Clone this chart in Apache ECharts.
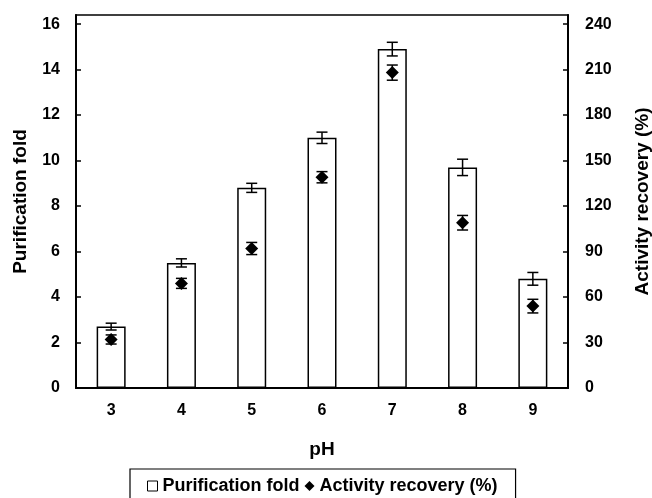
<!DOCTYPE html>
<html>
<head>
<meta charset="utf-8">
<script src="https://cdn.jsdelivr.net/npm/echarts@6/dist/echarts.min.js"></script>
<style>
  html, body { margin: 0; padding: 0; background: #fff; }
  #chart { width: 652px; height: 498px; }
</style>
</head>
<body>
<div id="chart"></div>
<script>
// pH values on the x axis
const phLabels = ['3', '4', '5', '6', '7', '8', '9'];
// purification fold (left axis) with error
const purificationFold = [2.7, 5.5, 8.8, 11.0, 14.9, 9.7, 4.8];
const purificationErr = [0.15, 0.18, 0.2, 0.25, 0.3, 0.36, 0.28];
// activity recovery % (right axis) with error
const activityRecovery = [32, 69, 92, 139, 208, 109, 54];
const activityErr = [3, 3.3, 4, 3.7, 5, 4.8, 4.5];

const FONT = '"Liberation Sans", Arial, sans-serif';

function errorBars(values, errs) {
  return values.map((v, i) => [i, v, errs[i]]);
}

function renderErr(params, api) {
  const x = api.value(0);
  const v = api.value(1);
  const e = api.value(2);
  const top = api.coord([x, v + e]);
  const bot = api.coord([x, v - e]);
  const hw = 5.5;
  const style = { stroke: '#000', lineWidth: 1.5 };
  return {
    type: 'group',
    children: [
      { type: 'line', shape: { x1: top[0], y1: top[1], x2: bot[0], y2: bot[1] }, style: style },
      { type: 'line', shape: { x1: top[0] - hw, y1: top[1], x2: top[0] + hw, y2: top[1] }, style: style },
      { type: 'line', shape: { x1: bot[0] - hw, y1: bot[1], x2: bot[0] + hw, y2: bot[1] }, style: style }
    ]
  };
}

const chart = echarts.init(document.getElementById('chart'), null, { renderer: 'canvas' });

const labelStyle = { color: '#000', fontWeight: 'bold', fontSize: 16, fontFamily: FONT };
const nameStyle = { color: '#000', fontWeight: 'bold', fontSize: 19, fontFamily: FONT };

chart.setOption({
  animation: false,
  backgroundColor: '#fff',
  grid: {
    left: 76, right: 84, top: 15, bottom: 110,
    outerBoundsMode: 'none',
    show: true, borderColor: '#000', borderWidth: 1.5, backgroundColor: 'transparent'
  },
  legend: {
    left: 130, top: 469,
    padding: [8, 18, 8, 17],
    borderColor: '#000', borderWidth: 1.2,
    itemWidth: 10, itemHeight: 10, itemGap: 5,
    textStyle: { color: '#000', fontWeight: 'bold', fontSize: 18, fontFamily: FONT },
    data: [
      { name: 'Purification fold', icon: 'rect', itemStyle: { color: '#fff', borderColor: '#000', borderWidth: 1 } },
      { name: 'Activity recovery (%)', icon: 'diamond', itemStyle: { color: '#000', opacity: 1 } }
    ]
  },
  xAxis: {
    type: 'category',
    data: phLabels,
    name: 'pH',
    nameLocation: 'middle',
    nameGap: 52,
    nameTextStyle: nameStyle,
    axisLine: { lineStyle: { color: '#000', width: 2 } },
    axisTick: { length: 4, lineStyle: { color: '#000', width: 1.5 } },
    axisLabel: Object.assign({ margin: 15 }, labelStyle)
  },
  yAxis: [
    {
      type: 'value', min: 0, max: 16.4, interval: 2,
      name: 'Purification fold',
      nameLocation: 'middle',
      nameGap: 46,
      nameTextStyle: nameStyle,
      splitLine: { show: false },
      axisLine: { show: true, lineStyle: { color: '#000', width: 2 } },
      axisTick: { show: true, inside: true, length: 5, lineStyle: { color: '#000', width: 1.5 } },
      axisLabel: Object.assign({
        margin: 16, showMaxLabel: false,
        formatter: v => (v % 2 === 0 ? String(v) : '')
      }, labelStyle)
    },
    {
      type: 'value', min: 0, max: 246, interval: 30,
      name: 'Activity recovery (%)',
      nameLocation: 'middle',
      nameGap: 65,
      nameTextStyle: nameStyle,
      splitLine: { show: false },
      axisLine: { show: true, lineStyle: { color: '#000', width: 2 } },
      axisTick: { show: true, inside: true, length: 5, lineStyle: { color: '#000', width: 1.5 } },
      axisLabel: Object.assign({
        margin: 17, showMaxLabel: false,
        formatter: v => (v % 30 === 0 ? String(v) : '')
      }, labelStyle)
    }
  ],
  series: [
    {
      name: 'Purification fold',
      type: 'bar',
      data: purificationFold,
      barWidth: 29,
      itemStyle: { color: '#fff', borderColor: '#000', borderWidth: 1.5 }
    },
    {
      name: 'purificationErr',
      type: 'custom',
      data: errorBars(purificationFold, purificationErr),
      renderItem: renderErr,
      z: 5
    },
    {
      name: 'Activity recovery (%)',
      type: 'scatter',
      yAxisIndex: 1,
      data: activityRecovery,
      symbol: 'diamond',
      symbolSize: [13, 13],
      itemStyle: { color: '#000', opacity: 1 },
      z: 6
    },
    {
      name: 'activityErr',
      type: 'custom',
      yAxisIndex: 1,
      data: errorBars(activityRecovery, activityErr),
      renderItem: renderErr,
      z: 5
    }
  ]
});
</script>
</body>
</html>
